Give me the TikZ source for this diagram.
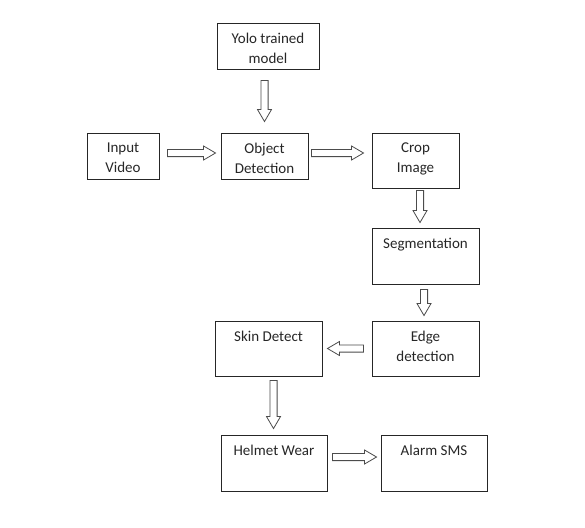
\documentclass[tikz,border=0pt]{standalone}
\usepackage{fontspec}
\setmainfont{Carlito}
\usetikzlibrary{calc}
\colorlet{boxcol}{black!85}
\colorlet{txtcol}{black!85}
\tikzset{
  stage/.style={draw=boxcol,line width=0.9pt,inner sep=0pt},
  stage text/.style={anchor=north,align=center,inner sep=0pt,yshift=-10.5pt,
                     text=txtcol,font=\fontsize{15}{20}\selectfont},
  hollow/.style={draw=black!70,line width=0.8pt,fill=white,line join=miter}}
\def\sw{3.6pt} % half shaft
\def\hw{7pt}   % half head
\def\hl{12pt}  % head length
\newcommand\blockArrow[2]{
  \coordinate (baT) at (#1);
  \coordinate (baH) at (#2);
  \coordinate (baB) at ($(baH)!\hl!(baT)$);
  \draw[hollow] ($(baT)!\sw!90:(baH)$) -- ($(baB)!\sw!-90:(baT)$) -- ($(baB)!\hw!-90:(baT)$)
    -- (baH) -- ($(baB)!\hw!90:(baT)$) -- ($(baB)!\sw!90:(baT)$) -- ($(baT)!\sw!-90:(baH)$) -- cycle;
}

\begin{document}
\begin{tikzpicture}[x=1pt,y=-1pt]
  \useasboundingbox (0,0) rectangle (585,527);

  % BOXES
  \node[stage,minimum width=102pt,minimum height=46pt,
        label={[stage text]north:Yolo trained\\model}] (yolo) at (268,46) {};
  \node[stage,minimum width=72pt,minimum height=46pt,
        label={[stage text]north:Input\\Video}] (iv) at (123,156) {};
  \node[stage,minimum width=87pt,minimum height=46pt,
        label={[stage text]north:Object\\Detection}] (od) at (264.5,156) {};
  \node[stage,minimum width=87pt,minimum height=55pt,
        label={[stage text]north:Crop\\Image}] (crop) at (415.5,160.5) {};
  \node[stage,minimum width=107pt,minimum height=56pt,
        label={[stage text]north:Segmentation}] (seg) at (425.5,256) {};
  \node[stage,minimum width=107pt,minimum height=55pt,
        label={[stage text]north:Edge\\detection}] (edge) at (425.5,348.5) {};
  \node[stage,minimum width=107pt,minimum height=55pt,
        label={[stage text]north:Skin Detect}] (skin) at (268.5,348.5) {};
  \node[stage,minimum width=106pt,minimum height=56pt,
        label={[stage text]north:Helmet Wear}] (helmet) at (274,463) {};
  \node[stage,minimum width=106pt,minimum height=56pt,
        label={[stage text]north:Alarm SMS}] (alarm) at (434,463) {};

  % ARROWS
  \blockArrow{$(od.north |- yolo.south)+(0,11)$}{$(od.north)+(0,-11)$}
  \blockArrow{$(iv.east)+(8,-3)$}{$(od.west)+(-5,-3)$}
  \blockArrow{$(od.east)+(3,-3)$}{$(od.east -| crop.west)+(-8,-3)$}
  \blockArrow{$(crop.south)+(4.5,2)$}{$(crop.south |- seg.north)+(4.5,-5)$}
  \blockArrow{$(seg.south)+(-1.5,5)$}{$(edge.north)+(-1.5,-5)$}
  \blockArrow{$(edge.west)+(-8,0)$}{$(skin.east)+(5,0)$}
  \blockArrow{$(skin.south)+(5,4)$}{$(skin.south |- helmet.north)+(5,-6)$}
  \blockArrow{$(helmet.east)+(5,-6)$}{$(alarm.west)+(-4,-6)$}

\end{tikzpicture}
\end{document}
